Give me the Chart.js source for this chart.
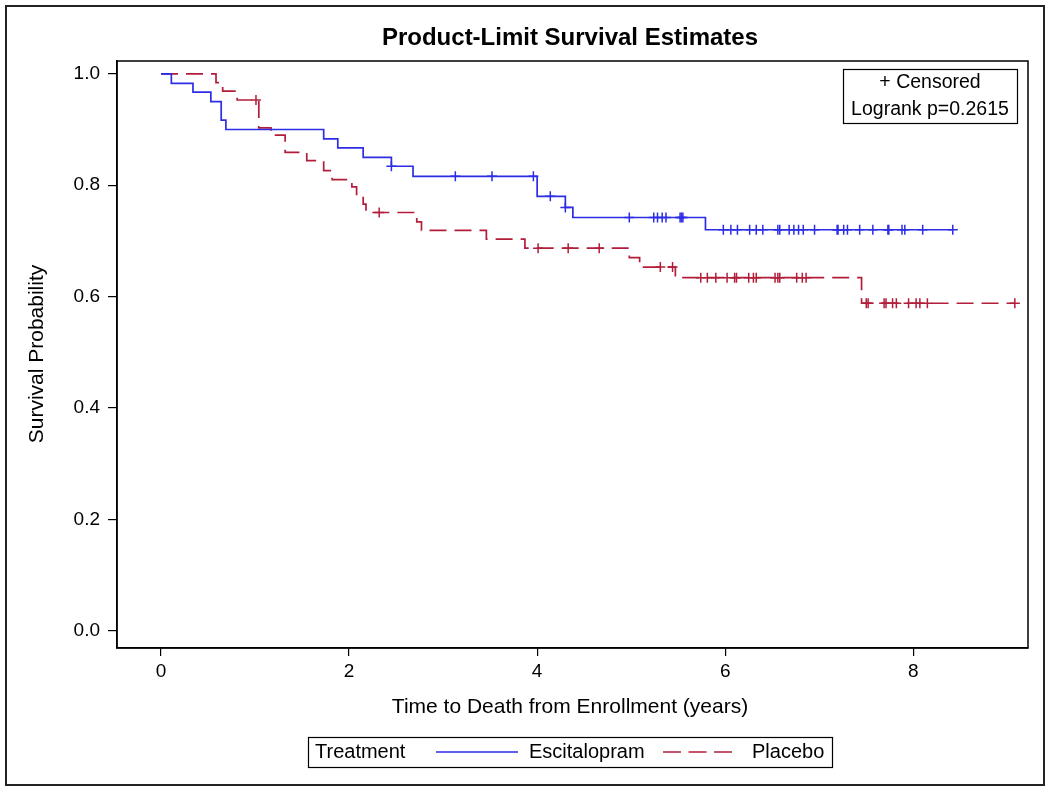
<!DOCTYPE html>
<html>
<head>
<meta charset="utf-8">
<title>Product-Limit Survival Estimates</title>
<script src="https://cdn.jsdelivr.net/npm/chart.js@4"></script>
<style>
    body { margin: 0; background: #fff; }
    #wrap { width: 1050px; height: 791px; }
</style>
</head>
<body>
<div id="wrap"><canvas id="kmChart" width="1050" height="791"></canvas></div>
<script>
// Kaplan-Meier steps (time in years, survival after the drop)
const escTimes = [0, 0.11, 0.34, 0.53, 0.64, 0.69, 1.73, 1.88, 2.15, 2.45, 2.68, 4.00, 4.30, 4.38, 5.79, 8.42];
const escSurv = [1.0, 0.983, 0.967, 0.950, 0.917, 0.900, 0.883, 0.867, 0.850, 0.834, 0.816, 0.780, 0.760, 0.742, 0.720, 0.720];
const escCensored = [2.45, 3.13, 3.52, 3.96, 4.14, 4.30, 4.98, 5.24, 5.28, 5.33, 5.37, 5.52, 5.535, 5.55,
    5.98, 6.06, 6.13, 6.26, 6.33, 6.40, 6.56, 6.58, 6.68, 6.73, 6.78, 6.83, 6.95, 7.19, 7.20, 7.26, 7.30,
    7.43, 7.57, 7.73, 7.74, 7.88, 7.91, 8.10, 8.42];

const plaTimes = [0, 0.585, 0.656, 0.81, 1.04, 1.17, 1.32, 1.55, 1.73, 1.82, 2.03, 2.08, 2.15, 2.18,
    2.72, 2.77, 3.46, 3.87, 4.98, 5.09, 5.47, 7.45, 9.08];
const plaSurv = [1.0, 0.984, 0.969, 0.953, 0.903, 0.890, 0.859, 0.844, 0.826, 0.810, 0.797, 0.781, 0.766, 0.751,
    0.734, 0.719, 0.703, 0.687, 0.670, 0.653, 0.634, 0.588, 0.588];
const plaCensored = [1.01, 2.32, 4.01, 4.33, 4.66, 5.31, 5.44, 5.74, 5.81, 5.90, 6.02, 6.10, 6.12, 6.25,
    6.30, 6.33, 6.53, 6.56, 6.58, 6.76, 6.82, 6.86, 7.50, 7.52, 7.69, 7.71, 7.78, 7.82, 7.95, 8.03, 8.07,
    8.15, 9.08];

const xTicks = [0, 2, 4, 6, 8];
const yTicks = [0, 0.2, 0.4, 0.6, 0.8, 1.0];

const BLUE = '#2D2DE6';
const RED = '#B21E3A';
const FONT = '"Liberation Sans", Arial, sans-serif';

// Helpers
function toPoints(times, surv) {
    return times.map((t, i) => ({ x: t, y: surv[i] }));
}

function survAt(times, surv, t) {
    let s = surv[0];
    times.forEach((ti, i) => {
        if (ti <= t + 1e-9) s = surv[i];
    });
    return s;
}

function censorPoints(cens, times, surv) {
    return cens.map(t => ({ x: t, y: survAt(times, surv, t) }));
}

// Extra drawing: title, axis titles, frame, inset box, legend
const decorations = {
    id: 'decorations',
    afterDraw(chart) {
        const ctx = chart.ctx;
        const area = chart.chartArea;
        ctx.save();
        ctx.fillStyle = '#000';
        ctx.strokeStyle = '#000';

        // plot frame
        ctx.lineWidth = 1.5;
        ctx.strokeRect(area.left, area.top, area.right - area.left, area.bottom - area.top);

        // outer border
        ctx.lineWidth = 2;
        ctx.strokeStyle = '#222';
        ctx.strokeRect(6, 6, 1038, 779);
        ctx.strokeStyle = '#000';

        // title
        ctx.textAlign = 'center';
        ctx.textBaseline = 'middle';
        ctx.font = 'bold 24px ' + FONT;
        ctx.fillText('Product-Limit Survival Estimates', 570, 38);

        // axis titles
        ctx.font = '21px ' + FONT;
        ctx.fillText('Time to Death from Enrollment (years)', 570, 707);
        ctx.save();
        ctx.translate(37, 354);
        ctx.rotate(-Math.PI / 2);
        ctx.fillText('Survival Probability', 0, 0);
        ctx.restore();

        // inset box
        ctx.lineWidth = 1.2;
        ctx.strokeRect(843.5, 69.5, 174, 54);
        ctx.font = '19.5px ' + FONT;
        ctx.fillText('+ Censored', 930, 83);
        ctx.fillText('Logrank p=0.2615', 930, 110);

        // legend
        ctx.strokeRect(308.5, 737.5, 524, 30);
        ctx.textAlign = 'left';
        ctx.font = '20px ' + FONT;
        ctx.fillText('Treatment', 315, 752);
        ctx.fillText('Escitalopram', 529, 752);
        ctx.fillText('Placebo', 752, 752);

        ctx.lineWidth = 1.6;
        ctx.strokeStyle = BLUE;
        ctx.beginPath();
        ctx.moveTo(436, 752);
        ctx.lineTo(518, 752);
        ctx.stroke();

        ctx.strokeStyle = RED;
        ctx.setLineDash([18, 7.5]);
        ctx.beginPath();
        ctx.moveTo(663, 752);
        ctx.lineTo(737, 752);
        ctx.stroke();
        ctx.restore();
    }
};

const ctx = document.getElementById('kmChart').getContext('2d');

new Chart(ctx, {
    type: 'scatter',
    data: {
        datasets: [
            {
                label: 'Escitalopram',
                data: toPoints(escTimes, escSurv),
                showLine: true,
                stepped: 'before',
                borderColor: BLUE,
                borderWidth: 1.7,
                pointRadius: 0
            },
            {
                label: 'Placebo',
                data: toPoints(plaTimes, plaSurv),
                showLine: true,
                stepped: 'before',
                borderColor: RED,
                borderWidth: 1.7,
                borderDash: [17, 8],
                pointRadius: 0
            },
            {
                label: 'Escitalopram censored',
                data: censorPoints(escCensored, escTimes, escSurv),
                pointStyle: 'cross',
                pointRadius: 5,
                pointBorderWidth: 1.5,
                borderColor: BLUE,
                backgroundColor: BLUE
            },
            {
                label: 'Placebo censored',
                data: censorPoints(plaCensored, plaTimes, plaSurv),
                pointStyle: 'cross',
                pointRadius: 5,
                pointBorderWidth: 1.5,
                borderColor: RED,
                backgroundColor: RED
            }
        ]
    },
    options: {
        responsive: false,
        animation: false,
        layout: {
            padding: { top: 61, right: 22, left: 0, bottom: 0 }
        },
        plugins: {
            legend: { display: false },
            tooltip: { enabled: false }
        },
        scales: {
            x: {
                type: 'linear',
                min: -0.468,
                max: 9.22,
                afterFit: s => { s.height = 143; },
                afterBuildTicks: s => { s.ticks = xTicks.map(v => ({ value: v })); },
                grid: { drawOnChartArea: false, drawTicks: true, tickLength: 8, color: '#000', lineWidth: 1.2 },
                border: { display: true, color: '#000', width: 1.5 },
                ticks: {
                    color: '#000',
                    padding: 4,
                    maxRotation: 0,
                    font: { family: FONT, size: 19 },
                    callback: v => String(v)
                }
            },
            y: {
                type: 'linear',
                min: -0.031,
                max: 1.023,
                afterFit: s => { s.width = 117; },
                afterBuildTicks: s => { s.ticks = yTicks.map(v => ({ value: v })); },
                grid: { drawOnChartArea: false, drawTicks: true, tickLength: 9, color: '#000', lineWidth: 1.2 },
                border: { display: true, color: '#000', width: 1.5 },
                ticks: {
                    color: '#000',
                    padding: 8,
                    font: { family: FONT, size: 19 },
                    callback: v => Number(v).toFixed(1)
                }
            }
        }
    },
    plugins: [decorations]
});
</script>
</body>
</html>
